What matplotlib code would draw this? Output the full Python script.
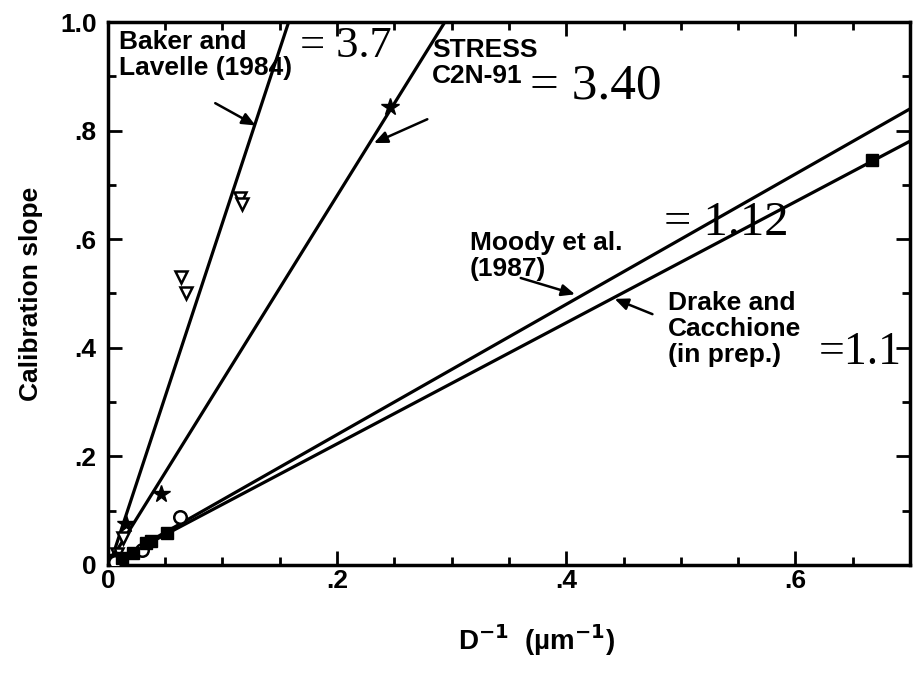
import numpy as np
import matplotlib.pyplot as plt
from matplotlib.ticker import MultipleLocator, FixedLocator

plt.rcParams['font.family'] = ['Liberation Sans', 'DejaVu Sans']

# fitted lines: calibration slope vs inverse grain size
line_names = ["Baker", "STRESS", "Moody", "Drake"]
line_slopes = [6.4, 3.40, 1.20, 1.115]
line_intercepts = [-0.01, 0.0, 0.0, 0.0]

# measured points for each data set
baker_x = [0.008, 0.013, 0.064, 0.068, 0.115, 0.117]
baker_y = [0.02, 0.05, 0.53, 0.50, 0.675, 0.665]
stress_x = [0.006, 0.016, 0.046, 0.246]
stress_y = [0.015, 0.075, 0.13, 0.844]
moody_x = [0.006, 0.030, 0.063]
moody_y = [0.005, 0.028, 0.088]
drake_x = [0.012, 0.022, 0.033, 0.038, 0.052, 0.667]
drake_y = [0.012, 0.022, 0.040, 0.045, 0.058, 0.745]

xticks = [0, 0.2, 0.4, 0.6]
xticklabels = ["0", ".2", ".4", ".6"]
yticks = [0, 0.2, 0.4, 0.6, 0.8, 1.0]
yticklabels = ["0", ".2", ".4", ".6", ".8", "1.0"]

fig = plt.figure(figsize=(9.14, 6.77), dpi=100)
ax = fig.add_axes([0.118, 0.1655, 0.8776, 0.802])

xx = np.array([0.0, 0.7])
for s, b in zip(line_slopes, line_intercepts):
    ax.plot(xx, s * xx + b, color="black", linewidth=2.3, zorder=2)

ax.plot(baker_x, baker_y, linestyle="none", marker="v", markersize=9,
        markerfacecolor="white", markeredgecolor="black", markeredgewidth=1.8, zorder=3)
ax.plot(stress_x, stress_y, linestyle="none", marker="*", markersize=13,
        color="black", zorder=3)
ax.plot(moody_x, moody_y, linestyle="none", marker="o", markersize=9,
        markerfacecolor="white", markeredgecolor="black", markeredgewidth=1.8, zorder=3)
ax.plot(drake_x, drake_y, linestyle="none", marker="s", markersize=8,
        markerfacecolor="black", markeredgecolor="black", zorder=3)

ax.set_xlim(0, 0.7)
ax.set_ylim(0, 1.0)
ax.xaxis.set_major_locator(FixedLocator(xticks))
ax.set_xticklabels(xticklabels, fontweight="bold")
ax.xaxis.set_minor_locator(MultipleLocator(0.05))
ax.yaxis.set_major_locator(FixedLocator(yticks))
ax.set_yticklabels(yticklabels, fontweight="bold")
ax.yaxis.set_minor_locator(MultipleLocator(0.1))
ax.tick_params(which="both", direction="in", top=True, right=True, width=2)
ax.tick_params(which="major", length=10, labelsize=19, pad=8)
ax.tick_params(axis="x", which="major", pad=3)
ax.tick_params(which="minor", length=6)
for sp in ax.spines.values():
    sp.set_linewidth(2.5)

ax.set_xlabel("D$^{\\mathbf{-1}}$  (\u00b5m$^{\\mathbf{-1}}$)", fontsize=20,
              fontweight="bold", labelpad=16)
ax.xaxis.set_label_coords(0.535, -0.105)
ax.set_ylabel("Calibration slope", fontsize=19, fontweight="bold", labelpad=12)

txt = dict(fontsize=19, fontweight="bold", va="top", ha="left", linespacing=1.1)
ax.text(0.01, 0.985, "Baker and\nLavelle (1984)", **txt)
ax.text(0.283, 0.97, "STRESS\nC2N-91", **txt)
ax.text(0.316, 0.615, "Moody et al.\n(1987)", **txt)
ax.text(0.489, 0.505, "Drake and\nCacchione\n(in prep.)", **txt)

serif = dict(family="Liberation Serif", va="center", ha="left")
ax.text(0.168, 0.955, "= 3.7", fontsize=32, **serif)
ax.text(0.368, 0.882, "= 3.40", fontsize=37, **serif)
ax.text(0.485, 0.63, "= 1.12", fontsize=35, **serif)
ax.text(0.62, 0.39, "=1.1", fontsize=33, **serif)

arrow = dict(arrowstyle="-|>,head_length=0.8,head_width=0.35", color="black", lw=1.8)
ax.annotate("", xy=(0.131, 0.807), xytext=(0.0916, 0.853), arrowprops=arrow)
ax.annotate("", xy=(0.230, 0.775), xytext=(0.281, 0.823), arrowprops=arrow)
ax.annotate("", xy=(0.41, 0.497), xytext=(0.358, 0.53), arrowprops=arrow)
ax.annotate("", xy=(0.44, 0.492), xytext=(0.4775, 0.46), arrowprops=arrow)

fig.savefig("out.png", dpi=100)
